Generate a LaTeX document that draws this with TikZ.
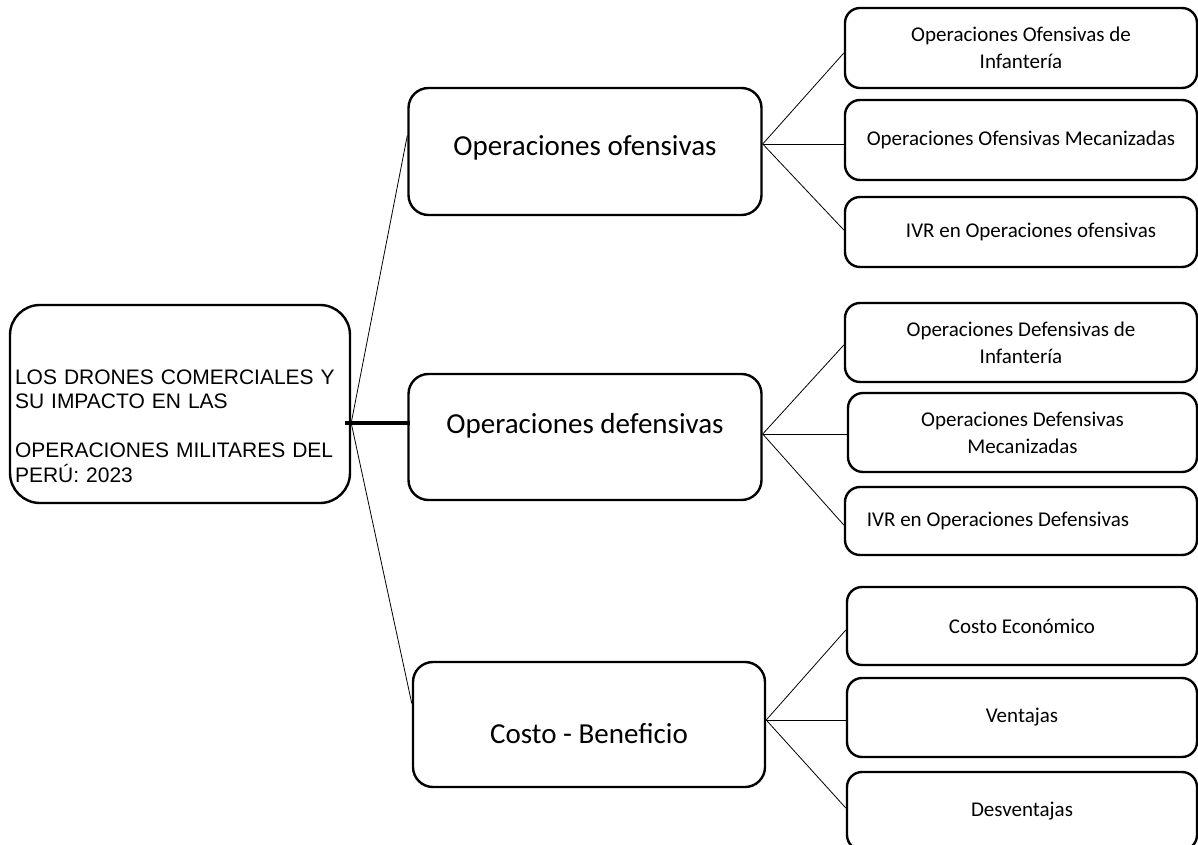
\documentclass[tikz,border=0pt]{standalone}
\usepackage{fontspec}
\setmainfont{Carlito}
\newfontfamily\rootfont{Liberation Sans}
\usepackage{tikz}
\usetikzlibrary{positioning,calc}

\begin{document}
\begin{tikzpicture}[
  x=1pt,y=-1pt,
  rootnode/.style={rectangle,rounded corners=30pt,draw=black,line width=2.4pt,minimum width=340pt,minimum height=198pt,inner xsep=5pt,inner ysep=0pt,text width=330pt,align=left,font=\rootfont\fontsize{21}{24.5}\selectfont},
  topic/.style={rectangle,rounded corners=20pt,draw=black,line width=2.4pt,minimum width=353pt,minimum height=126pt,inner sep=0pt,font=\fontsize{29}{35}\selectfont},
  subtopic/.style={rectangle,rounded corners=15pt,draw=black,line width=2.4pt,minimum width=352pt,minimum height=79pt,inner sep=0pt,align=center,font=\fontsize{21}{27}\selectfont},
  link/.style={draw=black,line width=0.8pt},
  mainlink/.style={draw=black,line width=4pt}
]
  \useasboundingbox (0,0) rectangle (1198,845);

  \node[rootnode,text height=60pt,text depth=100pt] (root) at (180,404) {LOS DRONES COMERCIALES Y\\SU IMPACTO EN LAS\\[24.5pt]OPERACIONES MILITARES DEL\\PERÚ: 2023};

  \node[topic,minimum height=127pt,text height=20pt,text depth=11pt] (ofen) at (585,151.5) {Operaciones ofensivas};
  \node[topic,text height=20pt,text depth=28pt] (defen) at (585,437) {Operaciones defensivas};
  \node[topic,minimum width=352pt,minimum height=125pt,text height=37pt,text depth=0pt] (costo) at (589,724.5) {Costo - Beneficio};

  \node[subtopic,minimum height=80pt] (ofen1) at (1021,48) {Operaciones Ofensivas de\\Infantería};
  \node[subtopic,minimum height=80pt] (ofen2) at (1021,140) {Operaciones Ofensivas Mecanizadas};
  \node[subtopic,minimum height=70pt] (ofen3) at (1021,232) {\hspace*{20pt}IVR en Operaciones ofensivas};

  \node[subtopic] (defen1) at (1021,342.5) {Operaciones Defensivas de\\Infantería};
  \node[subtopic,minimum width=349pt] (defen2) at (1022.5,432.5) {Operaciones Defensivas\\Mecanizadas};
  \node[subtopic,minimum height=68pt] (defen3) at (1021,521) {IVR en Operaciones Defensivas\hspace*{46pt}};

  \node[subtopic,minimum width=350pt,minimum height=78pt] (costo1) at (1022,626) {Costo Económico};
  \node[subtopic,minimum width=350pt] (costo2) at (1022,717.5) {Ventajas};
  \node[subtopic,minimum width=350pt,minimum height=78pt] (costo3) at (1022,811) {Desventajas};

  \coordinate (hub) at ([yshift=-19pt]root.east);
  \coordinate (ofenhub) at ([yshift=7.5pt]ofen.east);
  \coordinate (defenhub) at ([yshift=3pt]defen.east);
  \coordinate (costohub) at ([yshift=4.5pt]costo.east);

  \draw[link] (hub) -- ([yshift=16pt]ofen.west);
  \draw[link] (hub) -- ([yshift=21pt]costo.west);
  \draw[mainlink] ([xshift=-6pt]hub) -- ([xshift=3pt,yshift=14pt]defen.west);

  \draw[link] (ofenhub) -- ([yshift=-5pt]ofen1.west);
  \draw[link] (ofenhub) -- (ofenhub -| ofen2.west);
  \draw[link] (ofenhub) -- ([yshift=2pt]ofen3.west);
  \draw[link] (defenhub) -- ([yshift=-2.5pt]defen1.west);
  \draw[link] (defenhub) -- (defenhub -| defen2.west);
  \draw[link] (defenhub) -- ([yshift=-4pt]defen3.west);
  \draw[link] (costohub) -- ([yshift=-4pt]costo1.west);
  \draw[link] (costohub) -- (costohub -| costo2.west);
  \draw[link] (costohub) -- ([yshift=3pt]costo3.west);
\end{tikzpicture}
\end{document}
